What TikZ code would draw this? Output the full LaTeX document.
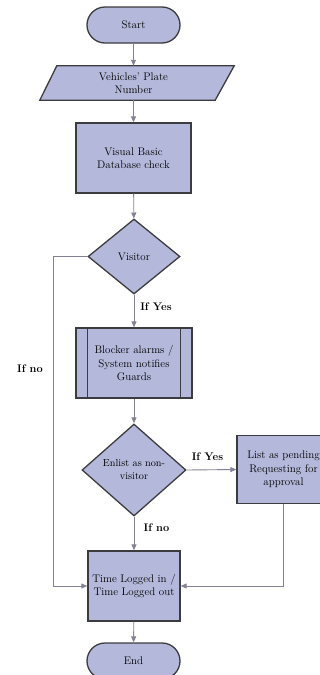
\documentclass[tikz,border=0pt]{standalone}
\usepackage{fontspec}
\usetikzlibrary{shapes.geometric,shapes.misc,arrows.meta,calc}
\definecolor{boxfill}{RGB}{180,184,218}
\definecolor{boxline}{RGB}{60,60,64}
\definecolor{connline}{RGB}{130,130,148}
\tikzset{
  base/.style={fill=boxfill, draw=boxline, line width=1.3pt, align=center, inner sep=0pt,
    font=\fontsize{11}{13.3}\selectfont},
  term/.style={base, rounded rectangle, minimum width=93pt, minimum height=36pt},
  procbox/.style={base, rectangle, minimum width=#1, minimum height=70pt},
  decide/.style={base, diamond, minimum width=#1},
  conn/.style={draw=connline, line width=0.9pt, -{Triangle[width=5pt,length=6pt]}},
  lbl/.style={font=\fontsize{11}{13}\selectfont\bfseries}
}
\begin{document}
\begin{tikzpicture}[x=1pt,y=-1pt]
\useasboundingbox (0,0) rectangle (320,675);
% Start
\node[term] (start) at (133.5,25) {Start};
% Parallelogram input
\node[inner sep=0pt, minimum width=194pt, minimum height=34pt] (plate) at (137,83) {};
\draw[fill=boxfill, draw=boxline, line width=1.3pt]
  (plate.south west) -- ($(plate.south east)+(-19,0)$) -- (plate.north east)
  -- ($(plate.north west)+(17,0)$) -- cycle;
\node[font=\fontsize{11}{13.3}\selectfont, align=center] (platetext) at (133.5,83) {Vehicles' Plate\\Number};
% VB check
\node[procbox=115pt] (vb) at (133.5,158) {Visual Basic\\Database check};
% Visitor decision
\node[decide=92pt, minimum height=75pt, aspect=1.23] (visitor) at (134,256.5) {Visitor};
% Blocker predefined process
\node[procbox=116pt] (blocker) at (134,363) {Blocker alarms /\\System notifies\\Guards};
\draw[draw=boxline, line width=1.3pt] ($(blocker.north west)+(12,0)$) -- ($(blocker.south west)+(12,0)$);
\draw[draw=boxline, line width=1.3pt] ($(blocker.north east)+(-12,0)$) -- ($(blocker.south east)+(-12,0)$);
% Enlist decision
\node[decide=104pt, minimum height=92pt, aspect=1.13, font=\fontsize{10.2}{13}\selectfont] (enlist) at (134,470) {Enlist as non-\\visitor};
% List pending
\node[base, rectangle, minimum width=93pt, minimum height=68pt] (list) at (283.5,469.5) {List as pending\\Requesting for\\approval};
% Time logged
\node[procbox=92pt] (time) at (134,586) {Time Logged in /\\Time Logged out};
% End
\node[term] (end) at (133.5,661) {End};
% connectors
\draw[conn] (start) -- (platetext |- plate.north);
\draw[conn] (platetext |- plate.south) -- (vb);
\draw[conn] (vb) -- (visitor);
\draw[conn] (visitor) -- (blocker);
\draw[conn] (blocker) -- (enlist);
\draw[conn] (enlist) -- (time);
\draw[conn] (time) -- (end);
\draw[conn] (enlist.east) -- (list.west);
\coordinate (leftx) at (53,0);
\draw[conn] (visitor.west) -- (visitor.west -| leftx) -- (leftx |- time.west) -- (time.west);
\draw[conn] (list.south) -- (list.south |- time.east) -- (time.east);
% labels
\node[lbl] (l1) at (156,307) {If Yes};
\node[lbl] (l2) at (30,369) {If no};
\node[lbl] (l3) at (207.5,457) {If Yes};
\node[lbl] (l4) at (156.5,528) {If no};
\end{tikzpicture}
\end{document}
